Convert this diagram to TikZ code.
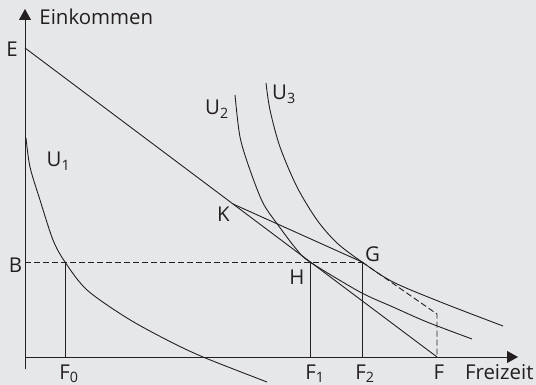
\documentclass[tikz,border=0pt]{standalone}
\usepackage{fontspec}
\setmainfont{Open Sans}
\usetikzlibrary{arrows.meta}
\definecolor{bgcol}{RGB}{230,231,233}
\definecolor{ink}{RGB}{35,31,32}

\begin{document}
\begin{tikzpicture}[x=10bp, y=10bp, line width=0.9pt, color=ink,
        font=\fontsize{20.5}{24}\selectfont,
        every node/.style={inner sep=0pt, anchor=base},
        axis/.style={-{Triangle[length=11bp, width=12bp]}},
        guide/.style={dash pattern=on 6bp off 3bp}]
        \fill[bgcol] (-2.5,-2.8) rectangle (51.1,35.7);
        \useasboundingbox (-2.5,-2.8) rectangle (51.1,35.7);

        \coordinate (o) at ( 0.0, 0.0);
        \coordinate (ytop) at ( 0.0, 34.8);
        \coordinate (ybot) at ( 0.0, -1.2);
        \coordinate (xend) at (49.3, 0.0);
        \coordinate (e) at ( 0.0, 30.9);
        \coordinate (b) at ( 0.0, 9.5);
        \coordinate (f) at (41.2, 0.0);
        \coordinate (k) at (20.8, 15.3);
        \coordinate (h) at (28.5, 9.5);
        \coordinate (g) at (33.7, 9.5);
        \coordinate (c) at (41.2, 4.3);
        \coordinate (f0) at ( 4.0, 0.0);
        \coordinate (f0top) at ( 4.0, 9.5);
        \coordinate (f1) at (28.5, 0.0);
        \coordinate (f2) at (33.7, 0.0);

        \node (ylab) at ( 1.4, 33.2) [anchor=base west] {Einkommen};
        \node (xlab) at (50.9, -2.2) [anchor=base east] {Freizeit};
        \node (elab) at (-1.3, 30.0) {E};
        \node (blab) at (-0.95, 8.4) {B};
        \node (klab) at (19.85, 13.5) {K};
        \node (glab) at (34.75, 9.5) {G};
        \node (hlab) at (27.2, 7.2) {H};
        \node (u1lab) at ( 3.35, 19.0) {U\textsubscript{1}};
        \node (u2lab) at (19.2, 24.2) {U\textsubscript{2}};
        \node (u3lab) at (25.9, 25.7) {U\textsubscript{3}};
        \node (f0lab) at ( 4.4, -2.2) {F\textsubscript{0}};
        \node (f1lab) at (29.0, -2.2) {F\textsubscript{1}};
        \node (f2lab) at (34.0, -2.2) {F\textsubscript{2}};
        \node (flab) at (41.4, -2.2) {F};

        \draw[axis] (ybot) -- (ytop);
        \draw[axis] (o) -- (xend);

        \draw (e) -- (f);
        \draw (k) -- (g);
        \draw[guide] (b) -- (g);
        \draw[guide] (g) -- (c) -- (f);
        \draw (f0top) -- (f0);
        \draw (h) -- (f1);
        \draw (g) -- (f2);

        \draw plot[smooth] coordinates {(0.1,21.9) (0.5,19.0) (1.5,15.7) (2.8,11.7) (4.0,9.5)
            (6.2,6.7) (10.2,3.9) (14.2,1.7) (17.8,0.0) (24.2,-2.5)};
        \draw plot[smooth] coordinates {(21.0,26.2) (21.5,22.0) (22.5,18.7) (23.8,15.4) (25.3,13.2)
            (27.2,10.7) (28.5,9.5) (33.5,6.5) (36.8,5.0) (40.2,3.5) (44.7,1.8)};
        \draw plot[smooth] coordinates {(24.1,27.4) (24.5,24.7) (25.5,21.0) (27.2,17.0) (29.2,13.7)
            (31.2,11.4) (33.7,9.5) (36.8,7.5) (41.8,5.4) (47.8,3.1)};
    \end{tikzpicture}
\end{document}
